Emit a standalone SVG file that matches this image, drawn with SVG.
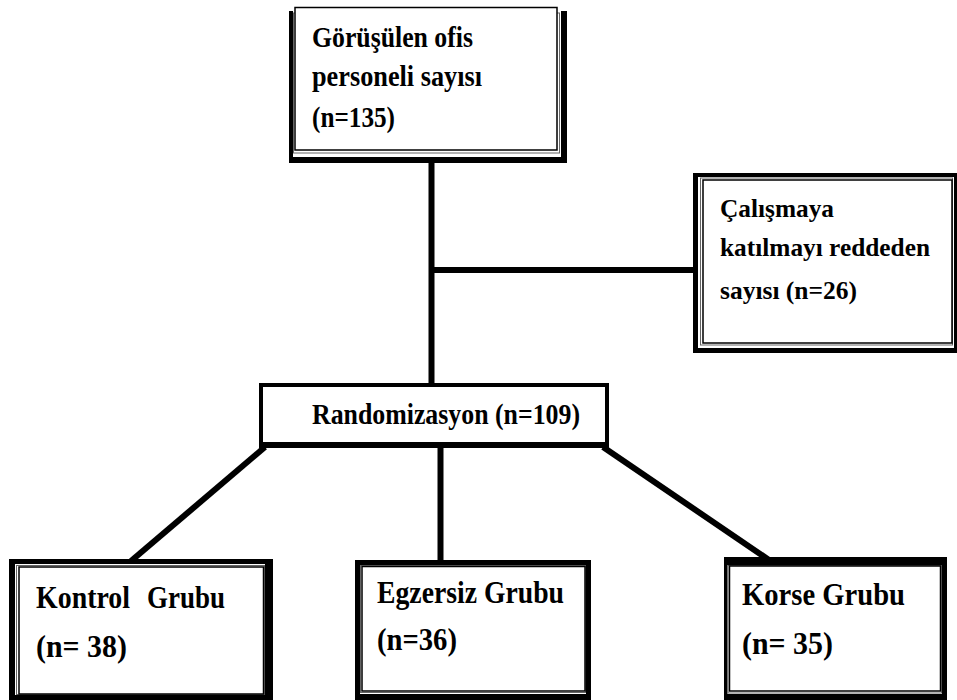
<svg xmlns="http://www.w3.org/2000/svg" width="957" height="700" viewBox="0 0 957 700">
<style>
.bg{fill:#ffffff}
.frame{fill:#000000}
.pad{fill:#ffffff}
.mid{fill:none;stroke:#666666;stroke-width:1}
.inner{fill:#ffffff;stroke:#000000;stroke-width:1.5}
.conn{stroke:#000000;stroke-width:6;fill:none;stroke-linecap:butt}
text{font-family:"Liberation Serif","Times New Roman",serif;font-weight:bold;font-size:30px;fill:#000000}
text.big{font-size:31px}
text.side{font-size:26px}
</style>
<rect class="bg" x="0" y="0" width="957" height="700"/>
<g id="connectors">
<line class="conn" x1="431.5" y1="160" x2="431.5" y2="385"/>
<line class="conn" x1="431.5" y1="270" x2="695" y2="270"/>
<line class="conn" x1="440.5" y1="446" x2="440.5" y2="562"/>
<line class="conn" x1="265" y1="447" x2="131" y2="561"/>
<line class="conn" x1="603" y1="447" x2="769" y2="560"/>
</g>
<g id="node-interviewed">
<rect class="frame" x="289" y="11" width="278" height="152"/>
<rect class="pad" x="293" y="11" width="268" height="146"/>
<rect class="mid" x="293.5" y="13" width="266" height="140"/>
<rect class="inner" x="295" y="7.5" width="262" height="142.5"/>
<text x="312" y="47" textLength="161" lengthAdjust="spacingAndGlyphs">Görüşülen ofis</text>
<text x="312" y="86" textLength="170" lengthAdjust="spacingAndGlyphs">personeli sayısı</text>
<text x="312" y="127" textLength="83" lengthAdjust="spacingAndGlyphs">(n=135)</text>
</g>
<g id="node-refused">
<rect class="frame" x="693" y="173" width="264" height="180"/>
<rect class="pad" x="698" y="177" width="256" height="171"/>
<rect class="mid" x="700.5" y="178" width="252" height="167"/>
<rect class="inner" x="703" y="180" width="249" height="163"/>
<text class="side" x="720" y="217" textLength="114" lengthAdjust="spacingAndGlyphs">Çalışmaya</text>
<text class="side" x="720" y="256" textLength="210" lengthAdjust="spacingAndGlyphs">katılmayı reddeden</text>
<text class="side" x="720" y="299" textLength="137" lengthAdjust="spacingAndGlyphs">sayısı (n=26)</text>
</g>
<g id="node-randomization">
<rect class="frame" x="259" y="383" width="350" height="65"/>
<rect class="inner" x="263" y="387" width="342" height="55" style="stroke:none"/>
<text x="312" y="424" textLength="268" lengthAdjust="spacingAndGlyphs">Randomizasyon (n=109)</text>
</g>
<g id="node-control">
<rect class="frame" x="9" y="559" width="264" height="141"/>
<rect class="pad" x="15" y="564" width="250" height="131"/>
<rect class="mid" x="16.5" y="565.5" width="248" height="129"/>
<rect class="inner" x="19" y="567" width="244.5" height="127"/>
<text class="big" x="36" y="608"><tspan textLength="94" lengthAdjust="spacingAndGlyphs">Kontrol</tspan> <tspan x="147" textLength="78" lengthAdjust="spacingAndGlyphs">Grubu</tspan></text>
<text class="big" x="36" y="657" textLength="91" lengthAdjust="spacingAndGlyphs">(n= 38)</text>
</g>
<g id="node-exercise">
<rect class="frame" x="355" y="560" width="236" height="140"/>
<rect class="pad" x="360" y="565" width="226" height="129"/>
<rect class="mid" x="360.5" y="565.5" width="225" height="127"/>
<rect class="inner" x="362" y="566.5" width="223" height="124.5"/>
<text class="big" x="377" y="603" textLength="187" lengthAdjust="spacingAndGlyphs">Egzersiz Grubu</text>
<text class="big" x="377" y="650" textLength="80" lengthAdjust="spacingAndGlyphs">(n=36)</text>
</g>
<g id="node-corset">
<rect class="frame" x="724" y="557" width="223" height="143"/>
<rect class="pad" x="727.5" y="565" width="214.5" height="129"/>
<rect class="mid" x="728" y="565.5" width="213.5" height="127.5"/>
<rect class="inner" x="729.5" y="566" width="211" height="125"/>
<text class="big" x="742" y="605" textLength="163" lengthAdjust="spacingAndGlyphs">Korse Grubu</text>
<text class="big" x="742" y="654" textLength="91" lengthAdjust="spacingAndGlyphs">(n= 35)</text>
</g>
</svg>
